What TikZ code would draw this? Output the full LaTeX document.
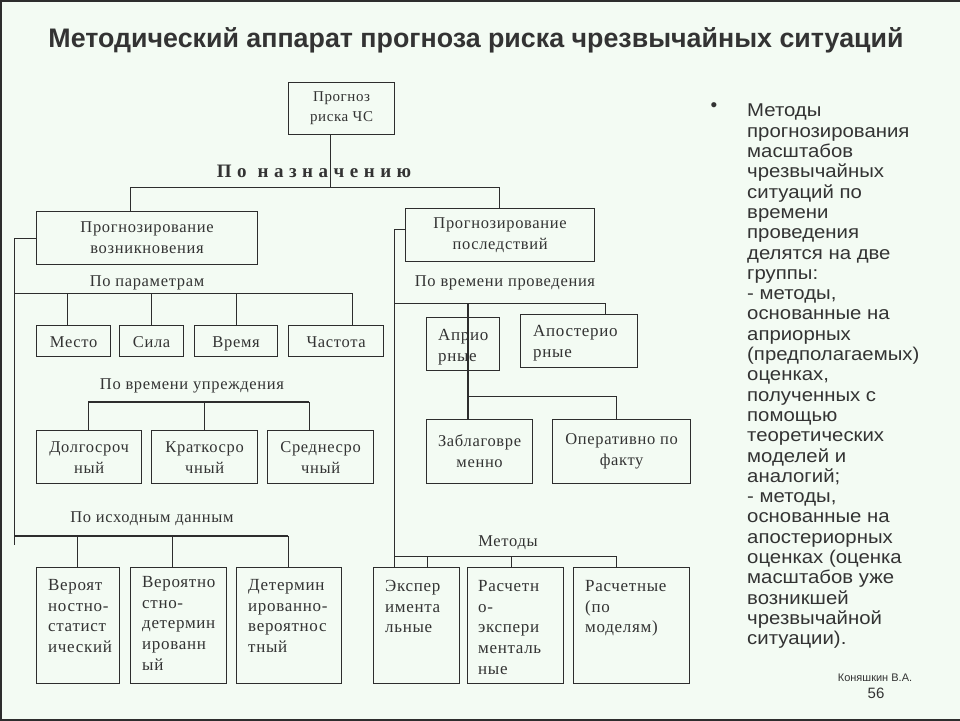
\documentclass[tikz,border=0pt]{standalone}
\usepackage{fontspec}
\setmainfont{Liberation Sans}
\newfontfamily\descfont[FakeStretch=1.1]{Liberation Sans}
\newfontfamily\dgfont[LetterSpace=4]{Liberation Serif}
\usetikzlibrary{positioning}
\definecolor{bgc}{RGB}{243,251,243}
\definecolor{txc}{RGB}{51,51,51}
\definecolor{lnc}{RGB}{45,45,45}
\tikzset{
  box/.style={draw=lnc, line width=1.2pt, anchor=north west, inner sep=0pt, align=center,
    font=\dgfont\fontsize{16.5}{21}\selectfont, text=txc},
  onebox/.style={box, minimum height=31, text height=14, text depth=1},
  txt/.style={anchor=north west, inner sep=0pt, align=left,
    font=\dgfont\fontsize{17}{20.7}\selectfont, text=txc},
  lbl/.style={inner sep=0pt, font=\dgfont\fontsize{16.5}{18}\selectfont, text=txc},
  bus/.style={draw=lnc, line width=1pt},
  hbus/.style={draw=lnc, line width=2pt},
}
\begin{document}
\begin{tikzpicture}[x=1pt,y=-1pt]
    \useasboundingbox (0,0) rectangle (960,720);
    \fill[bgc] (0,0) rectangle (960,720);
    \draw[lnc, line width=3pt] (960,0) -- (0,0) -- (0,720) -- (960,720);
    %title and side text
    \node[font=\fontsize{26.8}{30}\selectfont\bfseries, text=txc] (title) at (476,40)
        {Методический аппарат прогноза риска чрезвычайных ситуаций};
    \node[font=\fontsize{19}{19}\selectfont, text=txc] (bul) at (714,107) {•};
    \node[anchor=north west, inner sep=0pt, align=left, text=txc,
        font=\descfont\fontsize{18.5}{20.3}\selectfont] (desc) at (747,104)
        {Методы\\прогнозирования\\масштабов\\чрезвычайных\\ситуаций по\\времени\\проведения\\делятся на две\\группы:\\- методы,\\основанные на\\априорных\\(предполагаемых)\\оценках,\\полученных с\\помощью\\теоретических\\моделей и\\аналогий;\\- методы,\\основанные на\\апостериорных\\оценках (оценка\\масштабов уже\\возникшей\\чрезвычайной\\ситуации).};
    \node[font=\fontsize{11}{11}\selectfont, text=txc] (auth) at (875,678) {Коняшкин В.А.};
    \node[font=\fontsize{15}{15}\selectfont, text=txc] (pg) at (876,693) {56};

    %top level
    \node[box, minimum width=106, minimum height=52, font=\dgfont\fontsize{15}{20}\selectfont] (root) at (288,82) {Прогноз\\риска ЧС};
    \node[box, minimum width=221, minimum height=53] (voz) at (36,211) {Прогнозирование\\возникновения};
    \node[box, minimum width=189, minimum height=53] (pos) at (405,208) {Прогнозирование\\последствий};
    \node[lbl, font=\dgfont\bfseries\fontsize{19}{20}\selectfont] (naz) at (314,171) {П о \ н а з н а ч е н и ю};
    \coordinate (t0) at (330,187);
    \coordinate (tl) at (130,187);
    \coordinate (tr) at (499,187);
    \draw[bus] (t0 |- root.south) -- (t0);
    \draw[bus] (tl) -- (tr);
    \draw[bus] (tl) -- (tl |- voz.north);
    \draw[bus] (tr) -- (tr |- pos.north);

    %left branch
    \coordinate (lt) at (14,545);
    \draw[bus] (voz.west) -| (lt);
    \node[lbl] (ppar) at (147,283) {По параметрам};
    \node[onebox, minimum width=74] (mesto) at (36,325) {Место};
    \node[onebox, minimum width=64] (sila) at (119,325) {Сила};
    \node[onebox, minimum width=83] (vrem) at (194,325) {Время};
    \node[onebox, minimum width=95] (chast) at (288,325) {Частота};
    \draw[bus] (14,293) -- (352,293);
    \foreach \x/\n in {67/mesto,151/sila,236/vrem,352/chast}
        \draw[bus] (\x,293) -- (\x,0 |- \n.north);

    \node[lbl] (pupr) at (192,386) {По времени упреждения};
    \node[box, minimum width=105, minimum height=53] (dol) at (36,430) {Долгосроч\\ный};
    \node[box, minimum width=106, minimum height=53] (krat) at (151,430) {Краткосро\\чный};
    \node[box, minimum width=106, minimum height=53] (sred) at (267,430) {Среднесро\\чный};
    \draw[hbus] (88,402) -- (309,402);
    \foreach \x/\n in {88/dol,204/krat,309/sred}
        \draw[bus] (\x,402) -- (\x,0 |- \n.north);

    \node[lbl] (pish) at (152,519) {По исходным данным};
    \node[box, minimum width=83, minimum height=116] (vs) at (36,567) {};
    \node[box, minimum width=96, minimum height=116] (vd) at (130,567) {};
    \node[box, minimum width=105, minimum height=116] (dv) at (236,567) {};
    \node[txt] at (48,579) {Вероят\\ностно-\\статист\\ический};
    \node[txt] at (142,576) {Вероятно\\стно-\\детермин\\ированн\\ый};
    \node[txt] at (248,579) {Детермин\\ированно-\\вероятнос\\тный};
    \draw[hbus] (14,536) -- (288,536);
    \foreach \x/\n in {77/vs,172/vd,288/dv}
        \draw[bus] (\x,536) -- (\x,0 |- \n.north);

    %right branch
    \coordinate (rt) at (394,229);
    \draw[bus] (pos.west |- rt) -- (rt) -- (394,567);
    \node[lbl] (pprov) at (505,283) {По времени проведения};
    \node[box, minimum width=73, minimum height=53] (apr) at (426,317) {};
    \node[box, minimum width=117, minimum height=53] (apost) at (520,314) {};
    \node[txt] at (438,329) {Априо\\рные};
    \node[txt] at (533,325) {Апостерио\\рные};
    \node[box, minimum width=106, minimum height=64] (zab) at (426,419) {Заблаговре\\менно};
    \node[box, minimum width=138, minimum height=64] (oper) at (552,419) {Оперативно по\\факту};
    \draw[bus] (394,303) -- (605,303);
    \draw[bus] (605,303) -- (605,0 |- apost.north);
    \draw[hbus] (468,303) -- (468,0 |- zab.north);
    \draw[bus] (468,396) -- (616,396) -- (616,0 |- oper.north);

    \node[lbl] (pmet) at (508,543) {Методы};
    \node[box, minimum width=86, minimum height=116] (eks) at (373,567) {};
    \node[box, minimum width=96, minimum height=116] (rasch) at (467,567) {};
    \node[box, minimum width=116, minimum height=116] (rasm) at (573,567) {};
    \node[txt] at (385,580) {Экспер\\имента\\льные};
    \node[txt] at (478,580) {Расчетн\\о-\\экспери\\менталь\\ные};
    \node[txt] at (585,580) {Расчетные\\(по\\моделям)};
    \draw[bus] (394,556) -- (616,556);
    \foreach \x/\n in {427/eks,511/rasch,616/rasm}
        \draw[bus] (\x,556) -- (\x,0 |- \n.north);
\end{tikzpicture}
\end{document}
